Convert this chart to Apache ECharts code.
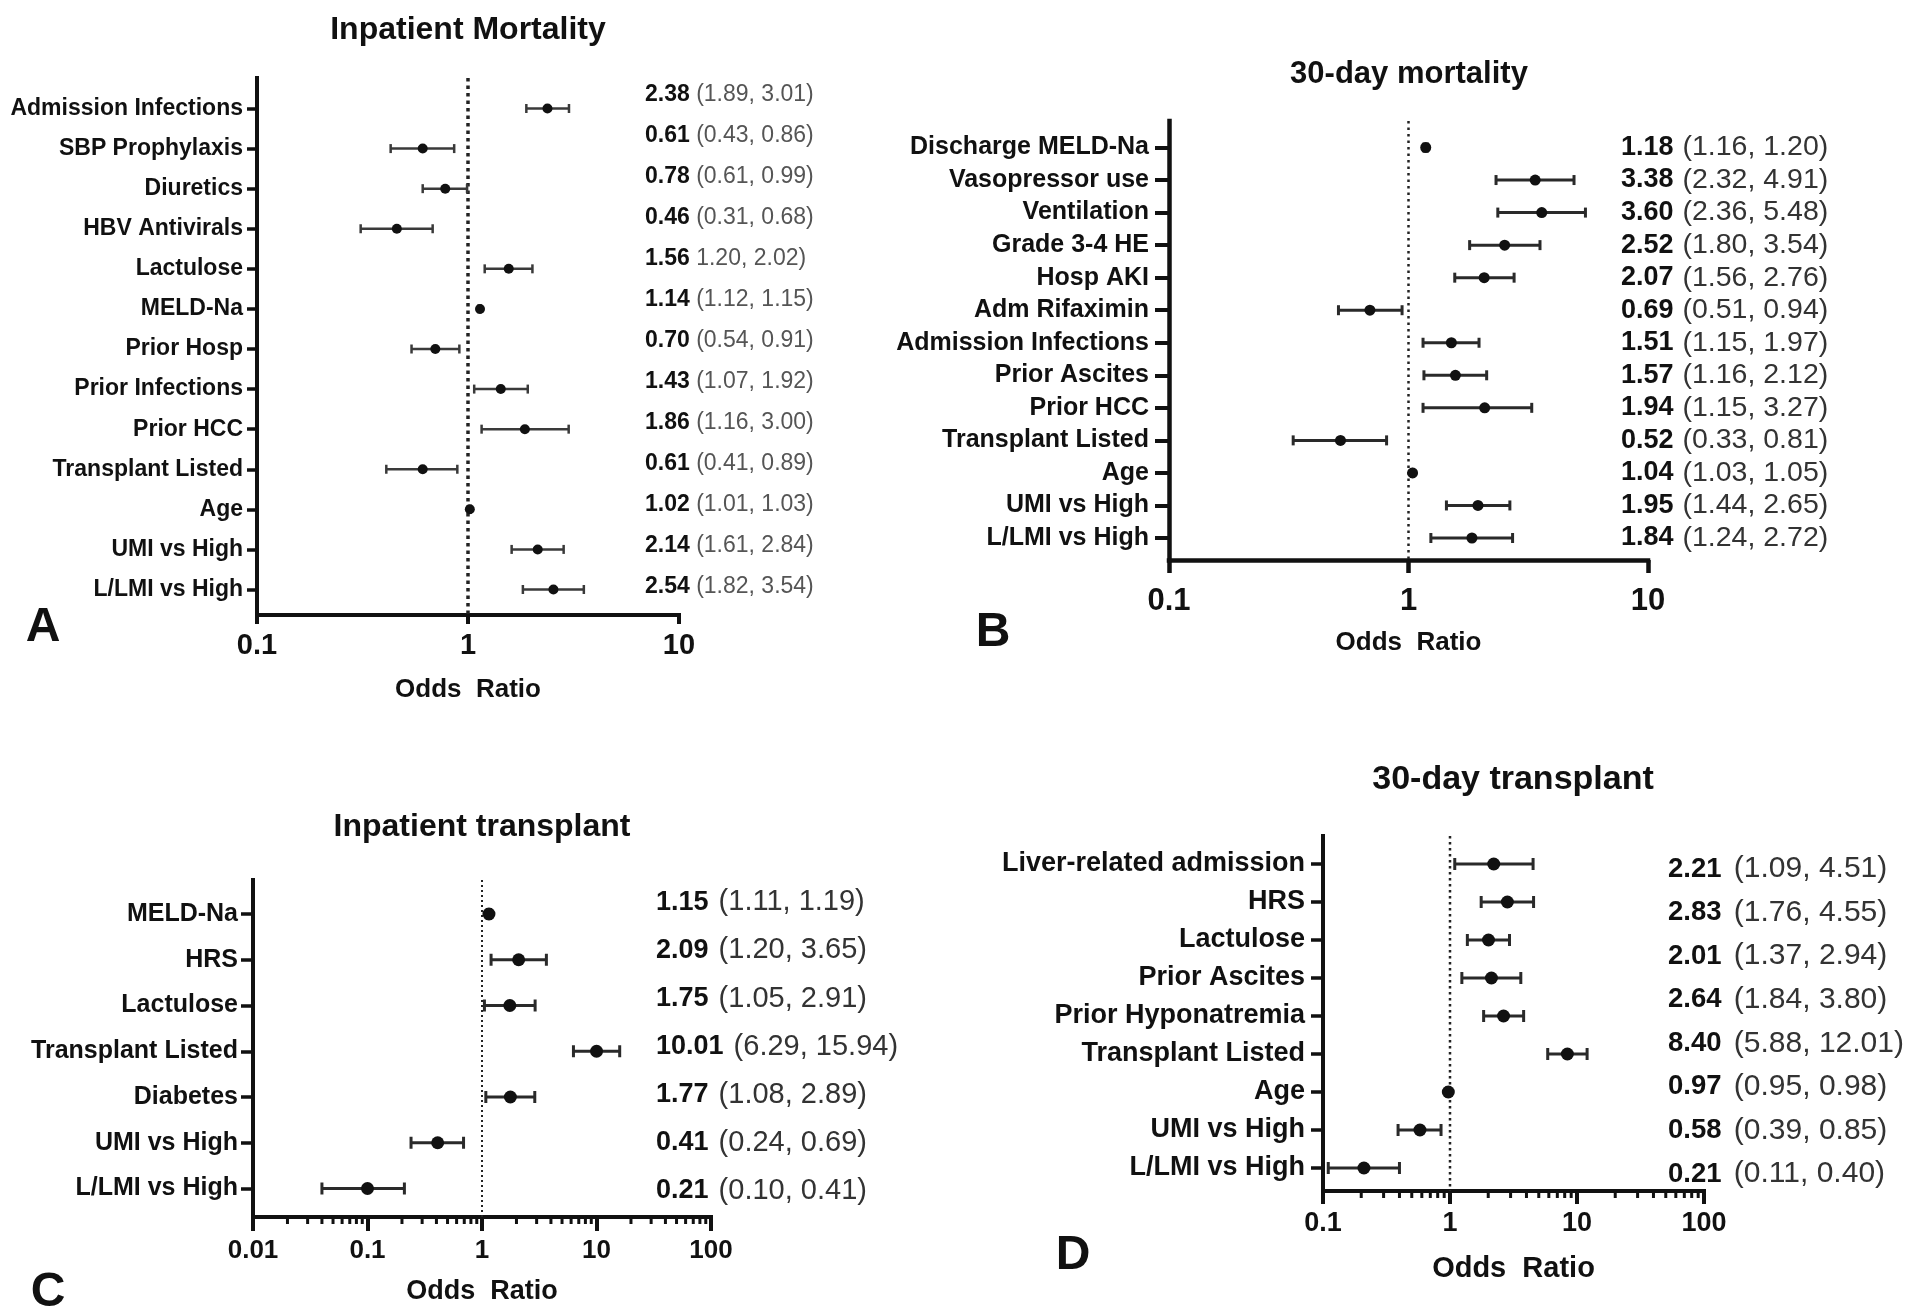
<!DOCTYPE html>
<html>
<head>
<meta charset="utf-8">
<script src="https://cdn.jsdelivr.net/npm/echarts@6/dist/echarts.min.js"></script>
<style>
html,body{margin:0;padding:0;background:#ffffff;}
#chart{width:1920px;height:1316px;}
</style>
</head>
<body>
<div id="chart"></div>
<script>
// ---------------- DATA ----------------
// Panel A: Inpatient Mortality
const catsA = ['Admission Infections','SBP Prophylaxis','Diuretics','HBV Antivirals','Lactulose','MELD-Na','Prior Hosp','Prior Infections','Prior HCC','Transplant Listed','Age','UMI vs High','L/LMI vs High'];
const orA = [2.38,0.61,0.78,0.46,1.56,1.14,0.70,1.43,1.86,0.61,1.02,2.14,2.54];
const loA = [1.89,0.43,0.61,0.31,1.20,1.12,0.54,1.07,1.16,0.41,1.01,1.61,1.82];
const hiA = [3.01,0.86,0.99,0.68,2.02,1.15,0.91,1.92,3.00,0.89,1.03,2.84,3.54];
const notesA = ['2.38 (1.89, 3.01)','0.61 (0.43, 0.86)','0.78 (0.61, 0.99)','0.46 (0.31, 0.68)','1.56 1.20, 2.02)','1.14 (1.12, 1.15)','0.70 (0.54, 0.91)','1.43 (1.07, 1.92)','1.86 (1.16, 3.00)','0.61 (0.41, 0.89)','1.02 (1.01, 1.03)','2.14 (1.61, 2.84)','2.54 (1.82, 3.54)'];

// Panel B: 30-day mortality
const catsB = ['Discharge MELD-Na','Vasopressor use','Ventilation','Grade 3-4 HE','Hosp AKI','Adm Rifaximin','Admission Infections','Prior Ascites','Prior HCC','Transplant Listed','Age','UMI vs High','L/LMI vs High'];
const orB = [1.18,3.38,3.60,2.52,2.07,0.69,1.51,1.57,2.08,0.52,1.04,1.95,1.84];
const loB = [1.16,2.32,2.36,1.80,1.56,0.51,1.15,1.16,1.15,0.33,1.03,1.44,1.24];
const hiB = [1.20,4.91,5.48,3.54,2.76,0.94,1.97,2.12,3.27,0.81,1.05,2.65,2.72];
const notesB = ['1.18 (1.16, 1.20)','3.38 (2.32, 4.91)','3.60 (2.36, 5.48)','2.52 (1.80, 3.54)','2.07 (1.56, 2.76)','0.69 (0.51, 0.94)','1.51 (1.15, 1.97)','1.57 (1.16, 2.12)','1.94 (1.15, 3.27)','0.52 (0.33, 0.81)','1.04 (1.03, 1.05)','1.95 (1.44, 2.65)','1.84 (1.24, 2.72)'];

// Panel C: Inpatient transplant
const catsC = ['MELD-Na','HRS','Lactulose','Transplant Listed','Diabetes','UMI vs High','L/LMI vs High'];
const orC = [1.15,2.09,1.75,10.01,1.77,0.41,0.10];
const loC = [1.11,1.20,1.05,6.29,1.08,0.24,0.04];
const hiC = [1.19,3.65,2.91,15.94,2.89,0.69,0.21];
const notesC = ['1.15 (1.11, 1.19)','2.09 (1.20, 3.65)','1.75 (1.05, 2.91)','10.01 (6.29, 15.94)','1.77 (1.08, 2.89)','0.41 (0.24, 0.69)','0.21 (0.10, 0.41)'];

// Panel D: 30-day transplant
const catsD = ['Liver-related admission','HRS','Lactulose','Prior Ascites','Prior Hyponatremia','Transplant Listed','Age','UMI vs High','L/LMI vs High'];
const orD = [2.21,2.83,2.01,2.12,2.64,8.40,0.97,0.58,0.21];
const loD = [1.09,1.76,1.37,1.24,1.84,5.88,0.95,0.39,0.11];
const hiD = [4.51,4.55,2.94,3.61,3.80,12.01,0.98,0.85,0.40];
const notesD = ['2.21 (1.09, 4.51)','2.83 (1.76, 4.55)','2.01 (1.37, 2.94)','2.64 (1.84, 3.80)','8.40 (5.88, 12.01)','0.97 (0.95, 0.98)','0.58 (0.39, 0.85)','0.21 (0.11, 0.40)'];

// axis ranges and reference value
const rangeA = [0.1, 10];
const rangeB = [0.1, 10];
const rangeC = [0.01, 100];
const rangeD = [0.1, 100];
const refValue = 1;
const axisTitle = 'Odds  Ratio';

// ---------------- LAYOUT / STYLE ----------------
const FONT = '"Liberation Sans", Arial, Helvetica, sans-serif';
const INK = '#111111';

const panels = [
  {letter:'A', title:'Inpatient Mortality', cats:catsA, or:orA, lo:loA, hi:hiA, notes:notesA, range:rangeA,
   ax:{left:257, top:78, right:679, bottom:615}, axW:4, majTick:9, minorLen:0,
   tickFont:29, tickMargin:16, nameFont:26, nameGap:62,
   rows:{first:108.5, last:589.5}, labFont:23, yTick:10, yLabMargin:14,
   notesPos:{x:645, first:94.5, last:586.5}, noteB:23, noteN:23, ciColor:'#555', notePad:0,
   dot:10, errW:2.5, cap:9, errColor:'#3a3a3a', ref:{w:3.5, dash:[3.5,4]},
   titleXY:[468,30], titleSize:32, letterXY:[43,628]},
  {letter:'B', title:'30-day mortality', cats:catsB, or:orB, lo:loB, hi:hiB, notes:notesB, range:rangeB,
   ax:{left:1169, top:121, right:1648, bottom:560}, axW:4.5, majTick:13, minorLen:0,
   tickFont:31, tickMargin:26, nameFont:26, nameGap:70,
   rows:{first:147.5, last:538}, labFont:25, yTick:14, yLabMargin:20,
   notesPos:{x:1621, first:147.5, last:538}, noteB:27, noteN:28.5, ciColor:'#333', notePad:1,
   dot:11, errW:3, cap:10, errColor:'#2a2a2a', ref:{w:2.5, dash:[2.5,4]},
   titleXY:[1409,74], titleSize:31, letterXY:[993,633]},
  {letter:'C', title:'Inpatient transplant', cats:catsC, or:orC, lo:loC, hi:hiC, notes:notesC, range:rangeC,
   ax:{left:253, top:880, right:711, bottom:1217}, axW:4, majTick:14, minorLen:7,
   tickFont:26, tickMargin:21, nameFont:27, nameGap:61,
   rows:{first:914, last:1188.5}, labFont:25, yTick:12, yLabMargin:15,
   notesPos:{x:656, first:902.4, last:1190.9}, noteB:27, noteN:29, ciColor:'#333', notePad:2,
   dot:13, errW:3, cap:12, errColor:'#2a2a2a', ref:{w:2, dash:[2,3]},
   titleXY:[482,827], titleSize:32, letterXY:[48,1293]},
  {letter:'D', title:'30-day transplant', cats:catsD, or:orD, lo:loD, hi:hiD, notes:notesD, range:rangeD,
   ax:{left:1323, top:836, right:1704, bottom:1191}, axW:4, majTick:13, minorLen:7,
   tickFont:27, tickMargin:19, nameFont:29, nameGap:63,
   rows:{first:864, last:1168}, labFont:27, yTick:12, yLabMargin:18,
   notesPos:{x:1668, first:869, last:1174}, noteB:27.5, noteN:30, ciColor:'#333', notePad:4,
   dot:13, errW:3, cap:12, errColor:'#2a2a2a', ref:{w:2.5, dash:[2.5,3.5]},
   titleXY:[1513,780], titleSize:34, letterXY:[1073,1256]}
];

// minor (log) tick positions for an axis range: 2..9 x 10^k within each decade
function minorTickValues(range) {
  const out = [];
  const k0 = Math.round(Math.log10(range[0]));
  const k1 = Math.round(Math.log10(range[1]));
  for (let k = k0; k < k1; k++) {
    for (let m = 2; m <= 9; m++) out.push([+(m * Math.pow(10, k)).toPrecision(6), 0]);
  }
  return out;
}

function fmtTick(v) { return String(parseFloat(Number(v).toPrecision(6))); }

function refRender(w, dash) {
  return function (params, api) {
    const x = api.coord([api.value(0), 0.5])[0];
    const cs = params.coordSys;
    return {type:'line', shape:{x1:x, y1:cs.y, x2:x, y2:cs.y + cs.height},
            style:{stroke:'#222222', lineWidth:w, lineDash:dash}};
  };
}
function minorRender(len, w) {
  return function (params, api) {
    const x = api.coord([api.value(0), 0])[0];
    const cs = params.coordSys;
    const yb = cs.y + cs.height;
    return {type:'line', shape:{x1:x, y1:yb, x2:x, y2:yb + len}, style:{stroke:INK, lineWidth:w}};
  };
}
function errRender(cap, w, color) {
  return function (params, api) {
    const p1 = api.coord([api.value(0), api.value(2)]);
    const p2 = api.coord([api.value(1), api.value(2)]);
    const st = {stroke:color, lineWidth:w};
    return {type:'group', children:[
      {type:'line', shape:{x1:p1[0], y1:p1[1], x2:p2[0], y2:p2[1]}, style:st},
      {type:'line', shape:{x1:p1[0], y1:p1[1]-cap/2, x2:p1[0], y2:p1[1]+cap/2}, style:st},
      {type:'line', shape:{x1:p2[0], y1:p2[1]-cap/2, x2:p2[0], y2:p2[1]+cap/2}, style:st}
    ]};
  };
}

const grid = [], xAxis = [], yAxis = [], series = [], graphic = [];

panels.forEach(function (p, k) {
  const g0 = 3*k, g1 = 3*k+1, g2 = 3*k+2;
  const w = p.ax.right - p.ax.left;
  const n = p.cats.length;
  const s = (p.rows.last - p.rows.first) / (n - 1);
  const m = p.notes.length;
  const sn = (p.notesPos.last - p.notesPos.first) / (m - 1);

  // axes grid (axis lines, x ticks, ref line)
  grid.push({left:p.ax.left, top:p.ax.top, width:w, height:p.ax.bottom - p.ax.top, outerBoundsMode:'none', containLabel:false});
  xAxis.push({gridIndex:g0, type:'log', logBase:10, min:p.range[0], max:p.range[1],
    axisLine:{show:true, onZero:false, lineStyle:{color:INK, width:p.axW, cap:'square'}},
    axisTick:{show:true, inside:false, length:p.majTick, lineStyle:{color:INK, width:p.axW}},
    minorTick:{show:false}, splitLine:{show:false}, minorSplitLine:{show:false},
    axisLabel:{show:true, margin:p.tickMargin, fontSize:p.tickFont, fontWeight:'bold', color:INK, fontFamily:FONT, formatter:fmtTick},
    name:axisTitle, nameLocation:'middle', nameGap:p.nameGap,
    nameTextStyle:{fontSize:p.nameFont, fontWeight:'bold', color:INK, fontFamily:FONT}});
  yAxis.push({gridIndex:g0, type:'value', min:0, max:1,
    axisLine:{show:true, onZero:false, lineStyle:{color:INK, width:p.axW, cap:'square'}},
    axisTick:{show:false}, axisLabel:{show:false}, splitLine:{show:false}});

  // rows grid (category labels, markers)
  grid.push({left:p.ax.left, top:p.rows.first - s/2, width:w, height:s*n, outerBoundsMode:'none', containLabel:false});
  xAxis.push({gridIndex:g1, type:'log', logBase:10, min:p.range[0], max:p.range[1], show:false});
  yAxis.push({gridIndex:g1, type:'category', data:p.cats, inverse:true, boundaryGap:true,
    axisLine:{show:false},
    axisTick:{show:true, alignWithLabel:true, length:p.yTick, lineStyle:{color:INK, width:p.axW - 0.5}},
    axisLabel:{show:true, interval:0, hideOverlap:false, margin:p.yLabMargin, fontSize:p.labFont, fontWeight:'bold', color:INK, fontFamily:FONT},
    splitLine:{show:false}});

  // notes grid (OR and CI text column)
  grid.push({left:p.notesPos.x - 10, top:p.notesPos.first - sn/2, width:10, height:sn*m, outerBoundsMode:'none', containLabel:false});
  xAxis.push({gridIndex:g2, type:'value', show:false});
  yAxis.push({gridIndex:g2, type:'category', data:p.notes, inverse:true, position:'right',
    axisLine:{show:false}, axisTick:{show:false}, splitLine:{show:false},
    axisLabel:{show:true, interval:0, hideOverlap:false, margin:0, fontSize:p.noteB, fontFamily:FONT,
      formatter:function (v) {
        const i = v.indexOf(' ');
        return '{b|' + v.slice(0, i) + '}{n|' + v.slice(i) + '}';
      },
      rich:{
        b:{fontSize:p.noteB, fontWeight:'bold', color:INK, fontFamily:FONT, padding:[0, p.notePad, 0, 0]},
        n:{fontSize:p.noteN, fontWeight:'normal', color:p.ciColor, fontFamily:FONT}
      }}});

  // reference line at OR = 1
  series.push({type:'custom', xAxisIndex:g0, yAxisIndex:g0, clip:false, silent:true, z:1,
    renderItem:refRender(p.ref.w, p.ref.dash), encode:{x:0, y:1}, data:[[refValue, 0]]});

  // minor ticks on log axis
  if (p.minorLen > 0) {
    series.push({type:'custom', xAxisIndex:g0, yAxisIndex:g0, clip:false, silent:true, z:1,
      renderItem:minorRender(p.minorLen, p.axW - 1), encode:{x:0, y:1}, data:minorTickValues(p.range)});
  }

  // error bars
  series.push({type:'custom', xAxisIndex:g1, yAxisIndex:g1, clip:false, silent:true, z:2,
    renderItem:errRender(p.cap, p.errW, p.errColor), encode:{x:[0,1], y:2},
    data:p.cats.map(function (c, i) { return [p.lo[i], p.hi[i], i]; })});

  // point estimates
  series.push({type:'scatter', xAxisIndex:g1, yAxisIndex:g1, symbol:'circle', symbolSize:p.dot, z:3, silent:true,
    itemStyle:{color:INK, opacity:1},
    data:p.cats.map(function (c, i) { return [p.or[i], i]; })});

  // title and panel letter
  graphic.push({type:'text', x:p.titleXY[0], y:p.titleXY[1], silent:true,
    style:{text:p.title, fontSize:p.titleSize, fontWeight:'bold', fontFamily:FONT, fill:INK,
      align:'center', verticalAlign:'middle', textAlign:'center', textVerticalAlign:'middle'}});
  graphic.push({type:'text', x:p.letterXY[0], y:p.letterXY[1], silent:true,
    style:{text:p.letter, fontSize:48, fontWeight:'bold', fontFamily:FONT, fill:INK,
      align:'center', verticalAlign:'middle', textAlign:'center', textVerticalAlign:'middle'}});
});

const chart = echarts.init(document.getElementById('chart'), null, {renderer:'canvas', width:1920, height:1316});
chart.setOption({
  backgroundColor:'#ffffff',
  animation:false,
  textStyle:{fontFamily:FONT},
  tooltip:{show:false},
  grid:grid, xAxis:xAxis, yAxis:yAxis, series:series, graphic:graphic
});
</script>
</body>
</html>
